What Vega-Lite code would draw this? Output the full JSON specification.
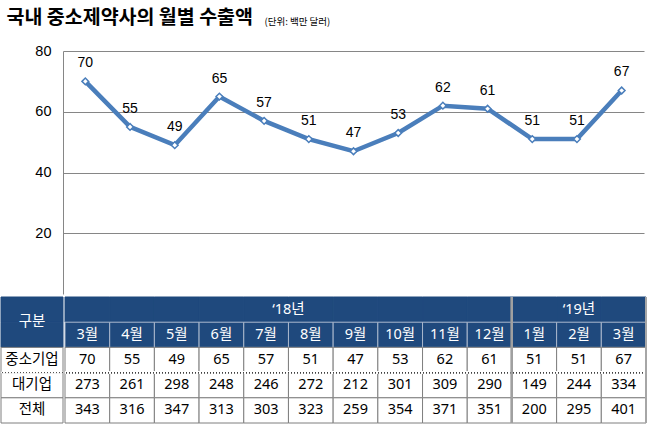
{
  "$schema": "https://vega.github.io/schema/vega-lite/v6.json",
  "padding": {"left": 0, "top": 7, "right": 0, "bottom": 0},
  "background": "white",
  "config": {"view": {"stroke": null}, "font": "Noto Sans, Noto Sans CJK KR, sans-serif"},
  "datasets": {
    "months": [
      {"k": "2018-03", "m": "3월", "sme": 70, "large": 273, "total": 343},
      {"k": "2018-04", "m": "4월", "sme": 55, "large": 261, "total": 316},
      {"k": "2018-05", "m": "5월", "sme": 49, "large": 298, "total": 347},
      {"k": "2018-06", "m": "6월", "sme": 65, "large": 248, "total": 313},
      {"k": "2018-07", "m": "7월", "sme": 57, "large": 246, "total": 303},
      {"k": "2018-08", "m": "8월", "sme": 51, "large": 272, "total": 323},
      {"k": "2018-09", "m": "9월", "sme": 47, "large": 212, "total": 259},
      {"k": "2018-10", "m": "10월", "sme": 53, "large": 301, "total": 354},
      {"k": "2018-11", "m": "11월", "sme": 62, "large": 309, "total": 371},
      {"k": "2018-12", "m": "12월", "sme": 61, "large": 290, "total": 351},
      {"k": "2019-01", "m": "1월", "sme": 51, "large": 149, "total": 200},
      {"k": "2019-02", "m": "2월", "sme": 51, "large": 244, "total": 295},
      {"k": "2019-03", "m": "3월", "sme": 67, "large": 334, "total": 401}
    ]
  },
  "spacing": 2,
  "vconcat": [
    {
      "spacing": 0,
      "bounds": "flush",
      "hconcat": [
        {"width": 62, "height": 243, "data": {"values": []}, "mark": "point"},
        {
          "width": 581,
          "height": 243,
          "data": {"name": "months"},
          "encoding": {
            "x": {
              "field": "k", "type": "nominal",
              "scale": {"type": "point", "padding": 0.5},
              "axis": {
                "orient": "top", "labels": false, "ticks": false, "domain": false, "grid": false,
                "title": "국내 중소제약사의 월별 수출액",
                "titleX": -57, "titleY": -43, "titleAlign": "left", "titleBaseline": "top",
                "titleFontSize": 19.5, "titleFontWeight": "bold", "titleColor": "#000000",
                "titleFont": "Noto Sans CJK KR"
              }
            },
            "y": {
              "field": "sme", "type": "quantitative",
              "scale": {"domain": [0, 80]},
              "axis": {
                "values": [20, 40, 60, 80], "grid": true, "gridColor": "#868686", "gridWidth": 1,
                "domainColor": "#868686", "ticks": false, "labelPadding": 12,
                "labelFontSize": 14.5, "labelColor": "#000000", "labelFont": "Liberation Sans",
                "title": "(단위: 백만 달러)", "titleAngle": 0, "titleX": 201, "titleY": -35,
                "titleAlign": "left", "titleBaseline": "top", "titleFontSize": 9.5,
                "titleFontWeight": "normal", "titleColor": "#000000", "titleFont": "Noto Sans CJK KR"
              }
            }
          },
          "layer": [
            {"mark": {"type": "line", "color": "#4A7EBB", "strokeWidth": 4.5}},
            {"mark": {"type": "point", "shape": "diamond", "filled": true, "fill": "white", "stroke": "#4A7EBB", "strokeWidth": 1.5, "size": 45, "opacity": 1}},
            {"mark": {"type": "text", "dy": -18, "fontSize": 14, "font": "Liberation Sans", "color": "#000000"}, "encoding": {"text": {"field": "sme"}}}
          ]
        }
      ]
    },
    {
      "spacing": 0,
      "hconcat": [
        {
          "width": 62,
          "height": 126,
          "data": {"values": [
            {"r": "year", "t": ""}, {"r": "month", "t": ""},
            {"r": "sme", "t": "중소기업"}, {"r": "large", "t": "대기업"}, {"r": "total", "t": "전체"}
          ]},
          "encoding": {
            "y": {"field": "r", "type": "nominal", "scale": {"domain": ["year", "month", "sme", "large", "total"], "paddingInner": 0, "paddingOuter": 0}, "axis": null}
          },
          "layer": [
            {"transform": [{"filter": "datum.r === 'year' || datum.r === 'month'"}],
             "mark": {"type": "rect", "fill": "#1F497D", "stroke": "#1F497D", "strokeWidth": 1}},
            {"transform": [{"filter": "datum.r !== 'year' && datum.r !== 'month'"}],
             "mark": {"type": "rect", "fill": "white", "stroke": "#7f7f7f", "strokeWidth": 1}},
            {"transform": [{"filter": "datum.r === 'large'"}],
             "mark": {"type": "rule", "color": "white", "strokeWidth": 1.5},
             "encoding": {"y": {"field": "r", "type": "nominal", "bandPosition": 0}}},
            {"transform": [{"filter": "datum.r === 'large'"}],
             "mark": {"type": "rule", "color": "#404040", "strokeWidth": 1, "strokeDash": [1, 2]},
             "encoding": {"y": {"field": "r", "type": "nominal", "bandPosition": 0}}},
            {"transform": [{"filter": "datum.r === 'month'"}],
             "mark": {"type": "text", "color": "white", "fontSize": 14.5, "font": "Noto Sans CJK KR"},
             "encoding": {"y": {"field": "r", "type": "nominal", "bandPosition": 0}, "text": {"value": "구분"}}},
            {"transform": [{"filter": "datum.r !== 'year' && datum.r !== 'month'"}],
             "mark": {"type": "text", "color": "#000000", "fontSize": 14.5, "font": "Noto Sans CJK KR"},
             "encoding": {"text": {"field": "t"}}}
          ]
        },
        {
          "width": 581,
          "height": 126,
          "data": {"name": "months"},
          "layer": [
            {"mark": {"type": "rect", "fill": "#1F497D", "stroke": "#1F497D", "strokeWidth": 1},
             "encoding": {
               "x": {"field": "k", "type": "nominal", "scale": {"type": "band", "paddingInner": 0, "paddingOuter": 0}, "axis": null},
               "y": {"datum": "year", "type": "nominal", "scale": {"domain": ["year", "month", "sme", "large", "total"], "paddingInner": 0, "paddingOuter": 0}, "axis": null}
             }},
            {"mark": {"type": "rect", "fill": "#1F497D", "stroke": "#a9b7cc", "strokeWidth": 1},
             "encoding": {
               "x": {"field": "k", "type": "nominal"},
               "y": {"datum": "month", "type": "nominal"}
             }},
            {"transform": [{"fold": ["sme", "large", "total"], "as": ["row", "v"]}],
             "mark": {"type": "rect", "fill": "white", "stroke": "#7f7f7f", "strokeWidth": 1},
             "encoding": {
               "x": {"field": "k", "type": "nominal"},
               "y": {"field": "row", "type": "nominal"}
             }},
            {"mark": {"type": "rule", "color": "white", "strokeWidth": 1.5},
             "encoding": {"y": {"datum": "large", "type": "nominal", "bandPosition": 0}}},
            {"mark": {"type": "rule", "color": "#404040", "strokeWidth": 1, "strokeDash": [1, 2]},
             "encoding": {"y": {"datum": "large", "type": "nominal", "bandPosition": 0}}},
            {"mark": {"type": "rule", "color": "#a0a0a0", "strokeWidth": 2},
             "encoding": {"x": {"datum": "2019-01", "type": "nominal", "bandPosition": 0}}},
            {"mark": {"type": "rule", "color": "#a6a6a6", "strokeWidth": 2},
             "encoding": {"x": {"datum": "2019-03", "type": "nominal", "bandPosition": 1}}},
            {"mark": {"type": "text", "color": "white", "fontSize": 14.5},
             "encoding": {
               "x": {"field": "k", "type": "nominal"},
               "y": {"datum": "month", "type": "nominal"},
               "text": {"field": "m"}
             }},
            {"data": {"values": [{"k": "2018-08", "yr": "‘18년"}]},
             "mark": {"type": "text", "color": "white", "fontSize": 14.5},
             "encoding": {
               "x": {"field": "k", "type": "nominal", "bandPosition": 0},
               "y": {"datum": "year", "type": "nominal"},
               "text": {"field": "yr"}
             }},
            {"data": {"values": [{"k": "2019-02", "yr": "‘19년"}]},
             "mark": {"type": "text", "color": "white", "fontSize": 14.5},
             "encoding": {
               "x": {"field": "k", "type": "nominal"},
               "y": {"datum": "year", "type": "nominal"},
               "text": {"field": "yr"}
             }},
            {"transform": [{"fold": ["sme", "large", "total"], "as": ["row", "v"]}],
             "mark": {"type": "text", "color": "#000000", "fontSize": 14.5},
             "encoding": {
               "x": {"field": "k", "type": "nominal"},
               "y": {"field": "row", "type": "nominal"},
               "text": {"field": "v"}
             }}
          ]
        }
      ]
    }
  ]
}
